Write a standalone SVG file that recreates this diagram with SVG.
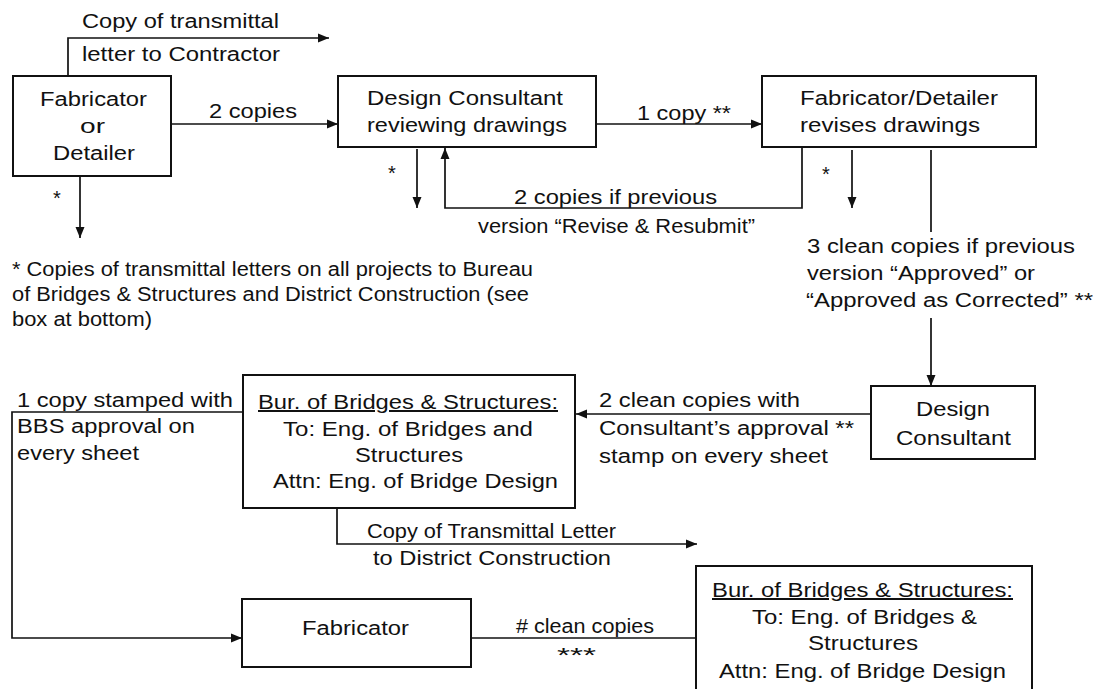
<svg xmlns="http://www.w3.org/2000/svg" width="1098" height="689" viewBox="0 0 1098 689">
<defs>
<marker id="ah" markerUnits="userSpaceOnUse" markerWidth="12" markerHeight="10" refX="11" refY="5" orient="auto">
<path d="M0,0.5 L11,5 L0,9.5 z" fill="#111"/>
</marker>
<style>
.box{fill:#fff;stroke:#111;stroke-width:2}
.ln{fill:none;stroke:#111;stroke-width:1.7}
.ar{fill:none;stroke:#111;stroke-width:1.7;marker-end:url(#ah)}
text{font-family:"Liberation Sans",Arial,sans-serif;font-size:20px;fill:#111}
.u{text-decoration:underline}
</style>
</defs>
<rect width="1098" height="689" fill="#fff"/>

<g id="connectors">
<path class="ar" d="M68,76 V38 H329"/>
<path class="ar" d="M171,124 H338"/>
<path class="ar" d="M80,177 V238"/>
<path class="ar" d="M596,124 H762"/>
<path class="ar" d="M417,149 V208"/>
<path class="ar" d="M802,147 V208 H445 V148"/>
<path class="ar" d="M852,150 V208"/>
<path class="ln" d="M931,150 V232"/>
<path class="ar" d="M931,318 V386"/>
<path class="ar" d="M871,414 H576"/>
<path class="ar" d="M243,412 H12 V638 H242"/>
<path class="ar" d="M337,508 V544 H697"/>
<path class="ln" d="M471,638 H696"/>
</g>

<g id="labels">
<text x="82" y="28" textLength="197" lengthAdjust="spacingAndGlyphs">Copy of transmittal</text>
<text x="82" y="61" textLength="198" lengthAdjust="spacingAndGlyphs">letter to Contractor</text>
<text x="209" y="118" textLength="88" lengthAdjust="spacingAndGlyphs">2 copies</text>
<text x="53" y="205">*</text>
<text x="637" y="120" textLength="94" lengthAdjust="spacingAndGlyphs">1 copy **</text>
<text x="388" y="180">*</text>
<text x="514" y="204" textLength="203" lengthAdjust="spacingAndGlyphs">2 copies if previous</text>
<text x="478" y="233" textLength="277" lengthAdjust="spacingAndGlyphs">version “Revise &amp; Resubmit”</text>
<text x="822" y="181">*</text>
<text x="807" y="253" textLength="268" lengthAdjust="spacingAndGlyphs">3 clean copies if previous</text>
<text x="807" y="280" textLength="228" lengthAdjust="spacingAndGlyphs">version “Approved” or</text>
<text x="806" y="307" textLength="287" lengthAdjust="spacingAndGlyphs">“Approved as Corrected” **</text>
<text x="12" y="276" textLength="521" lengthAdjust="spacingAndGlyphs">* Copies of transmittal letters on all projects to Bureau</text>
<text x="12" y="301" textLength="517" lengthAdjust="spacingAndGlyphs">of Bridges &amp; Structures and District Construction (see</text>
<text x="12" y="326" textLength="140" lengthAdjust="spacingAndGlyphs">box at bottom)</text>
<text x="17" y="407" textLength="216" lengthAdjust="spacingAndGlyphs">1 copy stamped with</text>
<text x="17" y="433" textLength="178" lengthAdjust="spacingAndGlyphs">BBS approval on</text>
<text x="17" y="460" textLength="122" lengthAdjust="spacingAndGlyphs">every sheet</text>
<text x="599" y="407" textLength="201" lengthAdjust="spacingAndGlyphs">2 clean copies with</text>
<text x="599" y="435" textLength="255" lengthAdjust="spacingAndGlyphs">Consultant’s approval **</text>
<text x="599" y="463" textLength="229" lengthAdjust="spacingAndGlyphs">stamp on every sheet</text>
<text x="367" y="538" textLength="249" lengthAdjust="spacingAndGlyphs">Copy of Transmittal Letter</text>
<text x="373" y="565" textLength="238" lengthAdjust="spacingAndGlyphs">to District Construction</text>
<text x="516" y="633" textLength="138" lengthAdjust="spacingAndGlyphs"># clean copies</text>
<text x="557" y="662" textLength="39" lengthAdjust="spacingAndGlyphs">***</text>
</g>

<g id="fabricator-detailer">
<rect class="box" x="13" y="76" width="158" height="100"/>
<text x="40" y="106" textLength="107" lengthAdjust="spacingAndGlyphs">Fabricator</text>
<text x="80" y="133" textLength="25" lengthAdjust="spacingAndGlyphs">or</text>
<text x="53" y="160" textLength="82" lengthAdjust="spacingAndGlyphs">Detailer</text>
</g>

<g id="design-consultant-review">
<rect class="box" x="338" y="76" width="258" height="71"/>
<text x="367" y="105" textLength="196" lengthAdjust="spacingAndGlyphs">Design Consultant</text>
<text x="367" y="132" textLength="200" lengthAdjust="spacingAndGlyphs">reviewing drawings</text>
</g>

<g id="fabricator-revises">
<rect class="box" x="762" y="76" width="274" height="71"/>
<text x="800" y="105" textLength="198" lengthAdjust="spacingAndGlyphs">Fabricator/Detailer</text>
<text x="800" y="132" textLength="180" lengthAdjust="spacingAndGlyphs">revises drawings</text>
</g>

<g id="design-consultant">
<rect class="box" x="871" y="386" width="164" height="73"/>
<text x="916" y="416" textLength="74" lengthAdjust="spacingAndGlyphs">Design</text>
<text x="896" y="445" textLength="115" lengthAdjust="spacingAndGlyphs">Consultant</text>
</g>

<g id="bbs-review">
<rect class="box" x="243" y="375" width="332" height="133"/>
<text class="u" x="258" y="409" textLength="300" lengthAdjust="spacingAndGlyphs">Bur. of Bridges &amp; Structures:</text>
<text x="283" y="436" textLength="250" lengthAdjust="spacingAndGlyphs">To: Eng. of Bridges and</text>
<text x="355" y="462" textLength="108" lengthAdjust="spacingAndGlyphs">Structures</text>
<text x="273" y="488" textLength="285" lengthAdjust="spacingAndGlyphs">Attn: Eng. of Bridge Design</text>
</g>

<g id="fabricator">
<rect class="box" x="242" y="599" width="229" height="68"/>
<text x="302" y="635" textLength="107" lengthAdjust="spacingAndGlyphs">Fabricator</text>
</g>

<g id="bbs-bottom">
<rect class="box" x="696" y="566" width="336" height="140"/>
<text class="u" x="712" y="597" textLength="301" lengthAdjust="spacingAndGlyphs">Bur. of Bridges &amp; Structures:</text>
<text x="752" y="624" textLength="225" lengthAdjust="spacingAndGlyphs">To: Eng. of Bridges &amp;</text>
<text x="808" y="650" textLength="110" lengthAdjust="spacingAndGlyphs">Structures</text>
<text x="719" y="678" textLength="287" lengthAdjust="spacingAndGlyphs">Attn: Eng. of Bridge Design</text>
</g>
</svg>
